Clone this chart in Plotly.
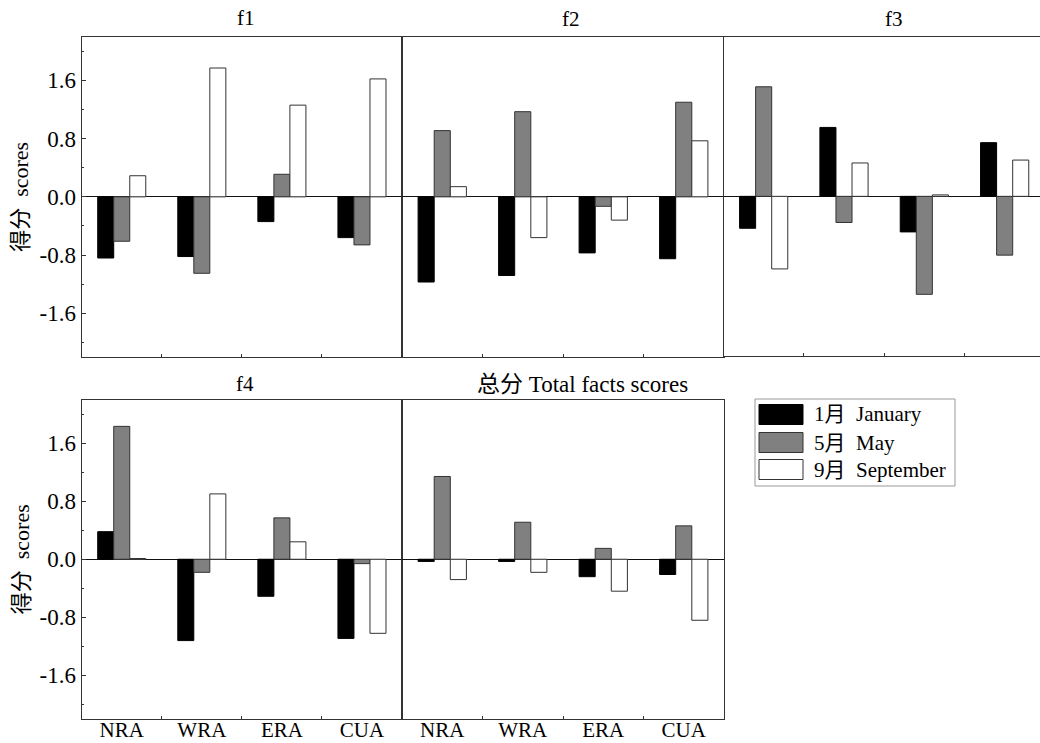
import plotly.graph_objects as go

# ---------------- data ----------------
categories = ["NRA", "WRA", "ERA", "CUA"]
series_names = ["1月  January", "5月  May", "9月  September"]

f1_jan = [-0.84, -0.82, -0.34, -0.56]
f1_may = [-0.61, -1.05, 0.31, -0.66]
f1_sep = [0.29, 1.77, 1.26, 1.62]

f2_jan = [-1.17, -1.08, -0.77, -0.85]
f2_may = [0.91, 1.17, -0.13, 1.30]
f2_sep = [0.14, -0.56, -0.32, 0.77]

f3_jan = [-0.44, 0.95, -0.49, 0.74]
f3_may = [1.51, -0.36, -1.35, -0.81]
f3_sep = [-1.00, 0.46, 0.02, 0.50]

f4_jan = [0.38, -1.12, -0.51, -1.09]
f4_may = [1.83, -0.18, 0.57, -0.06]
f4_sep = [0.01, 0.90, 0.24, -1.02]

total_jan = [-0.03, -0.03, -0.24, -0.21]
total_may = [1.14, 0.51, 0.15, 0.46]
total_sep = [-0.28, -0.18, -0.44, -0.84]

panel_titles = ["f1", "f2", "f3", "f4", "总分 Total facts scores"]
y_tickvals = [-1.6, -0.8, 0.0, 0.8, 1.6]
y_ticktext = ["-1.6", "-0.8", "0.0", "0.8", "1.6"]
y_title = "得分  scores"

# ---------------- style ----------------
W, H = 1040, 753
FONT = "Liberation Serif, Times New Roman, Noto Sans CJK SC, serif"
LINE = "#333333"
fills = ["#000000", "#808080", "#ffffff"]
outlines = ["#000000", "#333333", "#333333"]


def px(x):
    return x / W


def py(y):
    return 1 - y / H


panels = [
    dict(data=[f1_jan, f1_may, f1_sep], xd=(81.7, 402), yd=(36.7, 357), left=True, bottom=False,
         xr=[-0.5, 3.5], title_xy=(246, 18), tsize=21),
    dict(data=[f2_jan, f2_may, f2_sep], xd=(402, 724), yd=(36.7, 357), left=False, bottom=False,
         xr=[-0.5, 3.5], title_xy=(571, 19), tsize=21),
    dict(data=[f3_jan, f3_may, f3_sep], xd=(723.5, 1040), yd=(36.7, 356), left=False, bottom=False,
         xr=[-0.5, 3.44], title_xy=(894, 19), tsize=21, noright=True),
    dict(data=[f4_jan, f4_may, f4_sep], xd=(81.7, 402), yd=(399.5, 719), left=True, bottom=True,
         xr=[-0.5, 3.5], title_xy=(245, 384), tsize=21),
    dict(data=[total_jan, total_may, total_sep], xd=(402, 724), yd=(399.5, 719), left=False, bottom=True,
         xr=[-0.5, 3.5], title_xy=(582, 384), tsize=23),
]

fig = go.Figure()
layout = dict(
    width=W, height=H,
    margin=dict(l=0, r=0, t=0, b=0),
    paper_bgcolor="white", plot_bgcolor="white",
    barmode="group", bargap=0.4, bargroupgap=0,
    showlegend=False,
    font=dict(family=FONT, color="black", size=20),
)
annotations = []
shapes = []

for i, p in enumerate(panels):
    n = "" if i == 0 else str(i + 1)
    for s in range(3):
        fig.add_trace(go.Bar(
            x=categories, y=p["data"][s], name=series_names[s],
            marker=dict(color=fills[s], line=dict(color=outlines[s], width=1)),
            xaxis="x" + n, yaxis="y" + n,
        ))
    layout["xaxis" + n] = dict(
        domain=[px(p["xd"][0]), min(1.0, px(p["xd"][1]))], anchor="y" + n,
        type="category", categoryorder="array", categoryarray=categories,
        range=p["xr"],
        showline=True, linecolor=LINE, linewidth=1.3, mirror=True,
        ticks="inside", tickson="boundaries", ticklen=3, tickcolor=LINE,
        showticklabels=p["bottom"], tickfont=dict(size=21, family=FONT),
        ticklabelstandoff=-8,
        showgrid=False, zeroline=False,
    )
    yax = dict(
        domain=[py(p["yd"][1]), py(p["yd"][0])], anchor="x" + n,
        range=[-2.2, 2.2],
        showline=True, linecolor=LINE, linewidth=1.3,
        mirror=not p.get("noright", False),
        showgrid=False,
        zeroline=True, zerolinecolor="#111111", zerolinewidth=1.2,
    )
    if p["left"]:
        yax.update(
            tickmode="array", tickvals=y_tickvals, ticktext=y_ticktext,
            ticks="inside", ticklen=4, tickcolor=LINE,
            tickfont=dict(size=23, family=FONT),
            minor=dict(ticks="inside", ticklen=2, tickcolor=LINE, tickmode="linear", tick0=0.4, dtick=0.8),
        )
        annotations.append(dict(
            xref="paper", yref="paper", x=px(21), y=py((p["yd"][0] + p["yd"][1]) / 2),
            text=y_title, textangle=-90, showarrow=False,
            font=dict(size=22, family=FONT), xanchor="center", yanchor="middle",
        ))
    else:
        yax.update(showticklabels=False, ticks="")
    layout["yaxis" + n] = yax
    tx, ty = p["title_xy"]
    annotations.append(dict(
        xref="paper", yref="paper", x=px(tx), y=py(ty), text=panel_titles[i],
        showarrow=False, font=dict(size=p["tsize"], family=FONT), xanchor="center", yanchor="middle",
    ))

# ---------------- custom legend ----------------
shapes.append(dict(type="rect", xref="paper", yref="paper",
                   x0=px(755), x1=px(955), y0=py(486), y1=py(399),
                   line=dict(color="#999999", width=1), fillcolor="white"))
row_y = [414.5, 442.5, 469.5]
for s in range(3):
    shapes.append(dict(type="rect", xref="paper", yref="paper",
                       x0=px(759), x1=px(803), y0=py(row_y[s] + 10), y1=py(row_y[s] - 10),
                       line=dict(color=outlines[s] if s else "#000000", width=1), fillcolor=fills[s]))
    annotations.append(dict(
        xref="paper", yref="paper", x=px(812), y=py(row_y[s]), text=series_names[s],
        showarrow=False, font=dict(size=21, family=FONT), xanchor="left", yanchor="middle",
    ))

layout["annotations"] = annotations
layout["shapes"] = shapes
fig.update_layout(**layout)
fig.write_html("out.html", post_script="document.body.style.margin='0';",
               config={"displayModeBar": False})
